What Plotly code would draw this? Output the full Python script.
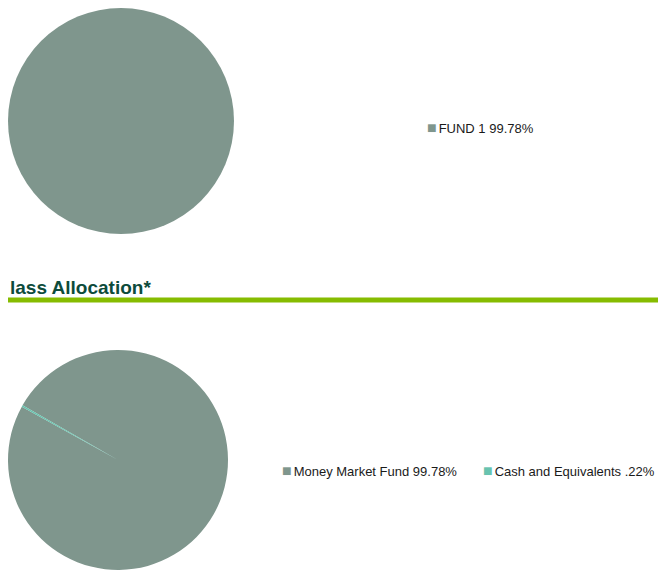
import plotly.graph_objects as go

# figure size (page body adds an 8px margin around it)
W, H = 650, 562
OFF = 8

# ---- data ----
fund_labels = ["FUND 1"]
fund_values = [99.78]

asset_labels = ["Money Market Fund", "Cash and Equivalents"]
asset_values = [99.78, 0.22]

section_title = "lass Allocation*"

# ---- styles ----
fund_colors = ["#7f968d"]
asset_colors = ["#7f968d", "#68c3af"]
title_color = "#0d4b3b"
rule_color = "#86bc00"
text_font = "Liberation Sans, Arial, sans-serif"


def fmt(v):
    s = f"{v:.2f}"
    return s[1:] if s.startswith("0") else s


def px_x(sx):
    return max(0.0, min(1.0, (sx - OFF) / W))


def px_y(sy):
    return max(0.0, min(1.0, 1 - (sy - OFF) / H))


fig = go.Figure()

fig.add_trace(go.Pie(
    labels=fund_labels, values=fund_values,
    marker=dict(colors=fund_colors, line=dict(width=0)),
    textinfo="none", hoverinfo="label+percent", sort=False,
    direction="clockwise", showlegend=False,
    domain=dict(x=[px_x(8), px_x(234)], y=[px_y(234), px_y(8)]),
))

fig.add_trace(go.Pie(
    labels=asset_labels, values=asset_values,
    marker=dict(colors=asset_colors, line=dict(width=0)),
    textinfo="none", hoverinfo="label+percent", sort=False,
    direction="clockwise", rotation=-60.2, showlegend=False,
    domain=dict(x=[px_x(8), px_x(228)], y=[px_y(570), px_y(350)]),
))

annotations = []


def legend_item(label, value, color, x, y):
    annotations.append(dict(
        xref="paper", yref="paper", x=px_x(x), y=px_y(y),
        xanchor="left", yanchor="middle", showarrow=False,
        text=(f"<span style='color:{color};font-size:16px'>■</span>"
              f"<span style='font-size:7px'> </span>{label} {fmt(value)}%"),
        font=dict(family=text_font, size=13, color="#1a1a1a"),
    ))


legend_item(fund_labels[0], fund_values[0], fund_colors[0], 425, 127)
legend_x = [280, 481]
for lab, val, col, lx in zip(asset_labels, asset_values, asset_colors, legend_x):
    legend_item(lab, val, col, lx, 470)

annotations.append(dict(
    xref="paper", yref="paper", x=0, y=px_y(287),
    xanchor="left", yanchor="middle", showarrow=False,
    text=f"<b>{section_title}</b>",
    font=dict(family=text_font, size=19, color=title_color),
))

fig.update_layout(
    width=W, height=H,
    margin=dict(l=0, r=0, t=0, b=0),
    paper_bgcolor="white", plot_bgcolor="white",
    annotations=annotations,
    shapes=[dict(type="line", xref="paper", yref="paper",
                 x0=0, x1=1, y0=px_y(300), y1=px_y(300),
                 line=dict(color=rule_color, width=5))],
)

fig.write_html("out.html")
